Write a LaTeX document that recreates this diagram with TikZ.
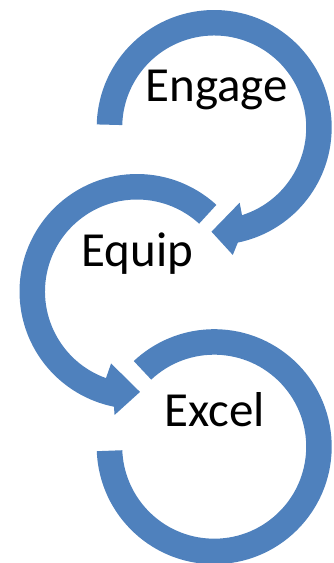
\documentclass[tikz,border=0pt]{standalone}
\usepackage{fontspec}
\setmainfont{Carlito}
\definecolor{arrowblue}{RGB}{79,129,189}
\begin{document}
\begin{tikzpicture}[x=1pt,y=1pt,
  ring/.style={fill=arrowblue},
  word/.style={font=\fontsize{49}{49}\selectfont, inner sep=0pt, anchor=base, text=black}]
\useasboundingbox (0,0) rectangle (333,563);
\coordinate (c1) at (214.2,435.5);
\coordinate (c2) at (137,271.5);
\coordinate (c3) at (214.2,116.3);
% Engage arrow (clockwise, head at bottom)
\fill[ring,shift={(c1)}] (178.5:117.5) arc[start angle=178.5,end angle=-78.4,radius=117.5]
  -- (-81.7:128.8) -- (-91.5:104.2) -- (-71.3:79.4) -- (-72.4:92)
  arc[start angle=-72.4,end angle=178.5,radius=92] -- cycle;
% Equip arrow (counter-clockwise, head at bottom)
\fill[ring,shift={(c2)}] (47.5:117.5) arc[start angle=47.5,end angle=258.7,radius=117.5]
  -- (259.7:125.5) -- (271.7:100.5) -- (250.2:76.5) -- (250.3:92)
  arc[start angle=250.3,end angle=47.5,radius=92] -- cycle;
% Excel ring (no head)
\fill[ring,shift={(c3)}] (182.2:117.5) arc[start angle=182.2,end angle=493.2,radius=117.5]
  -- (493.2:92) arc[start angle=493.2,end angle=182.2,radius=92] -- cycle;
\node[word] (engage) at (216.7,461.3) {Engage};
\node[word] (equip) at (137.5,296.3) {Equip};
\node[word] (excel) at (214.8,136.3) {Excel};
\end{tikzpicture}
\end{document}
